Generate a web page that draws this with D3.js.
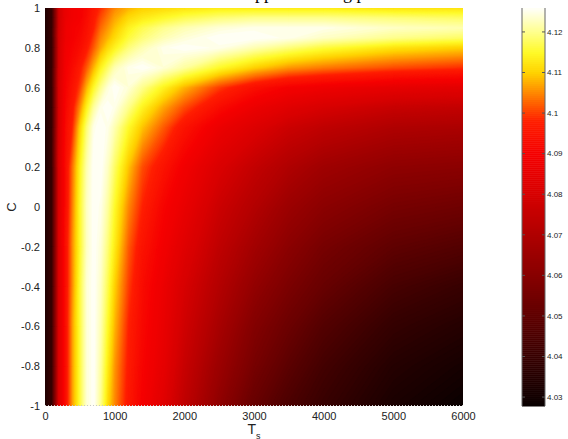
<!DOCTYPE html>
<html>
<head>
<meta charset="utf-8">
<script src="https://cdn.jsdelivr.net/npm/d3@7"></script>
<style>
  body { margin: 0; background: #fff; }
  svg { display: block; }
</style>
</head>
<body>
<div id="chart"></div>
<script>
// grid of the field: columns are T, rows are C (from -1 up to 1)
const tValues = [0, 100, 200, 300, 400, 500, 600, 700, 800, 900, 1000, 1200, 1400, 1700, 2000, 2500, 3000, 3500, 4000, 5000, 6000];
const cValues = [-1, -0.8, -0.6, -0.4, -0.2, 0, 0.2, 0.4, 0.5, 0.6, 0.7, 0.8, 0.85, 0.9, 0.95, 1];

const rowCm10 = [4.034, 4.041, 4.082, 4.095, 4.107, 4.116, 4.124, 4.126, 4.120, 4.111, 4.105, 4.096, 4.090, 4.083, 4.074, 4.062, 4.052, 4.045, 4.040, 4.032, 4.028];
const rowCm08 = [4.034, 4.041, 4.082, 4.095, 4.107, 4.116, 4.124, 4.126, 4.121, 4.113, 4.106, 4.097, 4.091, 4.085, 4.076, 4.065, 4.056, 4.049, 4.043, 4.035, 4.031];
const rowCm06 = [4.034, 4.041, 4.082, 4.095, 4.107, 4.116, 4.124, 4.126, 4.122, 4.115, 4.108, 4.098, 4.092, 4.086, 4.078, 4.068, 4.059, 4.053, 4.047, 4.039, 4.035];
const rowCm04 = [4.034, 4.041, 4.082, 4.095, 4.106, 4.116, 4.124, 4.126, 4.123, 4.117, 4.110, 4.100, 4.093, 4.087, 4.080, 4.071, 4.063, 4.057, 4.052, 4.044, 4.040];
const rowCm02 = [4.034, 4.041, 4.082, 4.095, 4.106, 4.115, 4.123, 4.126, 4.124, 4.119, 4.113, 4.102, 4.095, 4.089, 4.083, 4.074, 4.067, 4.061, 4.056, 4.050, 4.047];
const rowC000 = [4.034, 4.041, 4.082, 4.094, 4.105, 4.115, 4.123, 4.126, 4.125, 4.121, 4.115, 4.105, 4.098, 4.091, 4.086, 4.077, 4.071, 4.065, 4.061, 4.056, 4.054];
const rowC020 = [4.034, 4.041, 4.082, 4.094, 4.104, 4.114, 4.122, 4.126, 4.126, 4.123, 4.118, 4.109, 4.101, 4.095, 4.089, 4.081, 4.075, 4.070, 4.066, 4.062, 4.061];
const rowC040 = [4.034, 4.041, 4.081, 4.093, 4.099, 4.110, 4.119, 4.125, 4.126, 4.125, 4.122, 4.115, 4.109, 4.102, 4.095, 4.087, 4.082, 4.077, 4.074, 4.070, 4.069];
const rowC050 = [4.034, 4.041, 4.081, 4.092, 4.097, 4.105, 4.114, 4.121, 4.125, 4.126, 4.125, 4.120, 4.114, 4.107, 4.101, 4.093, 4.087, 4.083, 4.080, 4.076, 4.075];
const rowC060 = [4.034, 4.041, 4.081, 4.091, 4.095, 4.100, 4.108, 4.115, 4.120, 4.124, 4.126, 4.124, 4.120, 4.114, 4.108, 4.100, 4.094, 4.090, 4.088, 4.085, 4.084];
const rowC070 = [4.034, 4.041, 4.080, 4.090, 4.093, 4.097, 4.102, 4.108, 4.114, 4.118, 4.122, 4.125, 4.126, 4.124, 4.121, 4.115, 4.110, 4.106, 4.104, 4.101, 4.099];
const rowC080 = [4.034, 4.041, 4.080, 4.089, 4.091, 4.093, 4.097, 4.102, 4.107, 4.111, 4.114, 4.119, 4.122, 4.125, 4.126, 4.125, 4.122, 4.119, 4.116, 4.112, 4.110];
const rowC085 = [4.034, 4.041, 4.080, 4.088, 4.090, 4.092, 4.095, 4.100, 4.105, 4.108, 4.111, 4.116, 4.119, 4.122, 4.124, 4.126, 4.126, 4.125, 4.123, 4.120, 4.118];
const rowC090 = [4.034, 4.041, 4.079, 4.088, 4.090, 4.091, 4.094, 4.098, 4.103, 4.106, 4.109, 4.114, 4.117, 4.120, 4.122, 4.124, 4.125, 4.125, 4.125, 4.123, 4.122];
const rowC095 = [4.034, 4.041, 4.079, 4.087, 4.089, 4.090, 4.093, 4.097, 4.101, 4.104, 4.107, 4.111, 4.113, 4.115, 4.117, 4.119, 4.120, 4.120, 4.120, 4.119, 4.118];
const rowC100 = [4.034, 4.041, 4.079, 4.087, 4.089, 4.090, 4.092, 4.096, 4.099, 4.102, 4.105, 4.108, 4.110, 4.111, 4.112, 4.113, 4.113, 4.113, 4.113, 4.112, 4.112];

const zRows = [rowCm10, rowCm08, rowCm06, rowCm04, rowCm02, rowC000, rowC020, rowC040,
               rowC050, rowC060, rowC070, rowC080, rowC085, rowC090, rowC095, rowC100];

const xTicks = [0, 1000, 2000, 3000, 4000, 5000, 6000];
const yTicks = [-1, -0.8, -0.6, -0.4, -0.2, 0, 0.2, 0.4, 0.6, 0.8, 1];
const barTicks = [4.03, 4.04, 4.05, 4.06, 4.07, 4.08, 4.09, 4.1, 4.11, 4.12];

// colour limits and the "hot" colour map
const zLimits = [4.0278, 4.1259];
const cmapStops = [4.0278, 4.03, 4.04, 4.05, 4.06, 4.07, 4.08, 4.09, 4.098, 4.104, 4.11, 4.115, 4.12, 4.1259];
const cmapColors = ["#080000", "#120000", "#370000", "#5f0000", "#870000", "#af0000", "#d70000", "#f50000",
                    "#ff1e00", "#ff7800", "#ffd200", "#fffa28", "#ffff8c", "#fffffa"];

const W = 568, H = 439;
const plot = { left: 45, right: 463, top: 8, bottom: 406 };
const bar = { left: 522, right: 545 };

const svg = d3.select("#chart").append("svg")
    .attr("width", W)
    .attr("height", H);

const x = d3.scaleLinear().domain([0, 6000]).range([plot.left, plot.right]);
const y = d3.scaleLinear().domain([-1, 1]).range([plot.bottom, plot.top]);
const color = d3.scaleLinear().domain(cmapStops).range(cmapColors).clamp(true);

// title, mostly cut off by the top of the picture
svg.append("text")
    .attr("x", 247)
    .attr("y", -1)
    .attr("font-family", "Liberation Serif, serif")
    .attr("font-size", 18)
    .text("approximating p");

svg.append("clipPath").attr("id", "plotClip")
  .append("rect")
    .attr("x", plot.left).attr("y", plot.top)
    .attr("width", plot.right - plot.left).attr("height", plot.bottom - plot.top);

// field drawn as many filled contour bands over the grid
const nT = tValues.length, nC = cValues.length;
const values = [];
zRows.forEach(row => row.forEach(v => values.push(v)));

const nLevels = 160;
const step = (zLimits[1] - zLimits[0]) / nLevels;
const levels = d3.range(nLevels).map(i => zLimits[0] + i * step);

const contours = d3.contours().size([nT, nC]).thresholds(levels)(values);

// grid index space -> pixels (grid points sit at i + 0.5)
const uMap = d3.scaleLinear()
    .domain([0, ...tValues.map((d, i) => i + 0.5), nT])
    .range([x(tValues[0]), ...tValues.map(d => x(d)), x(tValues[nT - 1])]);
const vMap = d3.scaleLinear()
    .domain([0, ...cValues.map((d, i) => i + 0.5), nC])
    .range([y(cValues[0]), ...cValues.map(d => y(d)), y(cValues[nC - 1])]);

const path = d3.geoPath(d3.geoTransform({
    point: function(u, v) { this.stream.point(uMap(u), vMap(v)); }
}));

const field = svg.append("g").attr("clip-path", "url(#plotClip)");

field.append("rect")
    .attr("x", plot.left).attr("y", plot.top)
    .attr("width", plot.right - plot.left).attr("height", plot.bottom - plot.top)
    .attr("fill", color(zLimits[0]));

field.selectAll("path")
    .data(contours)
    .enter()
    .append("path")
    .attr("d", path)
    .attr("fill", d => color(d.value + step / 2))
    .attr("stroke", d => color(d.value + step / 2))
    .attr("stroke-width", 0.3);

// axes
const xAxis = svg.append("g")
    .attr("transform", `translate(0,${plot.bottom})`)
    .call(d3.axisBottom(x).tickValues(xTicks).tickSize(0).tickPadding(6)
        .tickFormat(d => String(d)));
const yAxis = svg.append("g")
    .attr("transform", `translate(${plot.left},0)`)
    .call(d3.axisLeft(y).tickValues(yTicks).tickSize(0).tickPadding(5)
        .tickFormat(d => String(d)));

[xAxis, yAxis].forEach(g => {
    g.select(".domain").remove();
    g.selectAll("text")
        .attr("font-family", "Liberation Sans, Arial, sans-serif")
        .attr("font-size", 11)
        .attr("fill", "#222");
});

// dotted bottom edge
svg.append("line")
    .attr("x1", plot.left).attr("x2", plot.right)
    .attr("y1", plot.bottom - 0.5).attr("y2", plot.bottom - 0.5)
    .attr("stroke", "#c8c8c8")
    .attr("stroke-width", 1)
    .attr("stroke-dasharray", "1,2");

// axis labels
const xLabel = svg.append("text")
    .attr("x", x(3000))
    .attr("y", 434)
    .attr("text-anchor", "middle")
    .attr("font-family", "Liberation Sans, Arial, sans-serif")
    .attr("font-size", 14)
    .attr("fill", "#222");
xLabel.append("tspan").text("T");
xLabel.append("tspan").attr("font-size", 9).attr("dy", 5).text("s");

svg.append("text")
    .attr("transform", `translate(16,${y(0)}) rotate(-90)`)
    .attr("text-anchor", "middle")
    .attr("font-family", "Liberation Sans, Arial, sans-serif")
    .attr("font-size", 13)
    .attr("fill", "#222")
    .text("C");

// colour bar
const yBar = d3.scaleLinear().domain(zLimits).range([plot.bottom, plot.top]);
const barStep = (zLimits[1] - zLimits[0]) / 200;
const barSteps = d3.range(0, 200).map(i => zLimits[0] + (i + 0.5) * barStep);

svg.append("g").selectAll("rect")
    .data(barSteps)
    .enter()
    .append("rect")
    .attr("x", bar.left)
    .attr("y", d => yBar(d + barStep / 2))
    .attr("width", bar.right - bar.left)
    .attr("height", d => yBar(d - barStep / 2) - yBar(d + barStep / 2) + 0.5)
    .attr("fill", d => color(d));

[bar.left, bar.right].forEach(bx => {
    svg.append("line")
        .attr("x1", bx).attr("x2", bx)
        .attr("y1", plot.top).attr("y2", plot.bottom)
        .attr("stroke", "#666")
        .attr("stroke-width", 1);
});

const barAxis = svg.append("g");
barAxis.selectAll(".tl")
    .data(barTicks)
    .enter()
    .append("line")
    .attr("x1", bar.left).attr("x2", bar.left + 3)
    .attr("y1", d => yBar(d)).attr("y2", d => yBar(d))
    .attr("stroke", "#555");
barAxis.selectAll(".tr")
    .data(barTicks)
    .enter()
    .append("line")
    .attr("x1", bar.right - 3).attr("x2", bar.right)
    .attr("y1", d => yBar(d)).attr("y2", d => yBar(d))
    .attr("stroke", "#555");
barAxis.selectAll("text")
    .data(barTicks)
    .enter()
    .append("text")
    .attr("x", bar.right + 2)
    .attr("y", d => yBar(d))
    .attr("dy", "0.35em")
    .attr("font-family", "Liberation Sans, Arial, sans-serif")
    .attr("font-size", 8)
    .attr("fill", "#222")
    .text(d => String(d));
</script>
</body>
</html>
